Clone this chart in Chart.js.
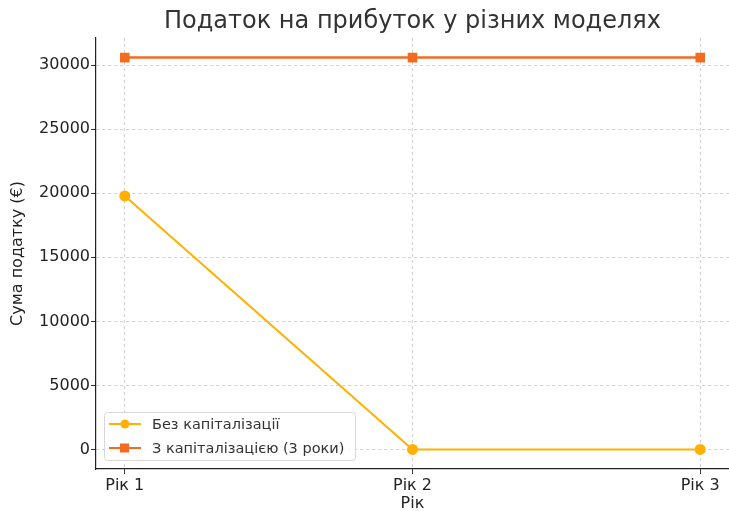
<!DOCTYPE html>
<html>
<head>
<meta charset="utf-8">
<script src="https://cdn.jsdelivr.net/npm/chart.js@4"></script>
<style>
  html, body { margin: 0; padding: 0; background: #fff; }
  #wrap { width: 729px; height: 511px; }
</style>
</head>
<body>
<div id="wrap"><canvas id="chart" width="729" height="511"></canvas></div>
<script>
const years = ['Рік 1', 'Рік 2', 'Рік 3'];
const noCap = [19800, 0, 0];
const withCap = [30600, 30600, 30600];
const yTicks = [0, 5000, 10000, 15000, 20000, 25000, 30000];
const chartTitle = 'Податок на прибуток у різних моделях';

const FONT = "'DejaVu Sans', sans-serif";

function pts(arr) {
  return arr.map((v, i) => ({ x: i, y: v }));
}

// title centred over the plot area, like matplotlib does
const plotTitle = {
  id: 'plotTitle',
  afterDraw(chart) {
    const ctx = chart.ctx;
    const a = chart.chartArea;
    ctx.save();
    ctx.font = '24px ' + FONT;
    ctx.fillStyle = '#333';
    ctx.textAlign = 'center';
    ctx.textBaseline = 'middle';
    ctx.fillText(chartTitle, (a.left + a.right) / 2, 22);
    ctx.restore();
  }
};

// legend drawn inside the plot, lower left
const innerLegend = {
  id: 'innerLegend',
  afterDatasetsDraw(chart) {
    const ctx = chart.ctx;
    const a = chart.chartArea;
    const x0 = a.left + 8, y0 = a.bottom - 57, w = 251, h = 48;
    ctx.save();
    ctx.fillStyle = 'rgba(255,255,255,0.8)';
    ctx.strokeStyle = '#d8d8d8';
    ctx.lineWidth = 1;
    ctx.beginPath();
    ctx.roundRect(x0 + 0.5, y0 + 0.5, w, h, 3);
    ctx.fill();
    ctx.stroke();
    ctx.font = '14.5px ' + FONT;
    ctx.textBaseline = 'middle';
    chart.data.datasets.forEach((ds, i) => {
      const cy = y0 + 12 + i * 24;
      ctx.strokeStyle = ds.borderColor;
      ctx.lineWidth = 2;
      ctx.beginPath();
      ctx.moveTo(x0 + 5, cy);
      ctx.lineTo(x0 + 37, cy);
      ctx.stroke();
      ctx.fillStyle = ds.borderColor;
      if (ds.pointStyle === 'rect') {
        ctx.fillRect(x0 + 16, cy - 4.5, 9, 9);
      } else {
        ctx.beginPath();
        ctx.arc(x0 + 21, cy, 4.5, 0, Math.PI * 2);
        ctx.fill();
      }
      ctx.fillStyle = '#333';
      ctx.fillText(ds.label, x0 + 48, cy + 1);
    });
    ctx.restore();
  }
};

new Chart(document.getElementById('chart'), {
  type: 'line',
  data: {
    datasets: [
      {
        label: 'Без капіталізації',
        data: pts(noCap),
        borderColor: '#ffb000',
        backgroundColor: '#ffb000',
        borderWidth: 2,
        pointStyle: 'circle',
        pointRadius: 4.5,
        pointHoverRadius: 4.5
      },
      {
        label: 'З капіталізацією (3 роки)',
        data: pts(withCap),
        borderColor: '#f26b21',
        backgroundColor: '#f26b21',
        borderWidth: 2.5,
        pointStyle: 'rect',
        pointRadius: 5,
        pointHoverRadius: 5
      }
    ]
  },
  options: {
    responsive: false,
    animation: false,
    layout: { autoPadding: false, padding: { right: 0, top: 38, left: 0, bottom: 0 } },
    plugins: {
      legend: { display: false },
      tooltip: { enabled: false },
      title: { display: false }
    },
    scales: {
      x: {
        type: 'linear',
        min: -0.1,
        max: 2.1,
        afterBuildTicks: s => { s.ticks = years.map((_, i) => ({ value: i })); },
        afterFit: s => { s.height = 42; s.paddingLeft = 0; s.paddingRight = 0; },
        ticks: {
          callback: v => years[v],
          color: '#222',
          font: { family: FONT, size: 16 },
          padding: 2
        },
        grid: { color: '#d0d0d0', tickColor: '#333', tickLength: 5 },
        border: { display: true, color: '#222', width: 1.2, dash: [3, 3] },
        title: {
          display: true,
          text: 'Рік',
          color: '#222',
          font: { family: FONT, size: 16 },
          padding: { top: 4, bottom: -2 }
        }
      },
      y: {
        min: -1530,
        max: 32130,
        afterBuildTicks: s => { s.ticks = yTicks.map(v => ({ value: v })); },
        afterFit: s => { s.width = 96; s.paddingTop = 0; s.paddingBottom = 0; },
        ticks: {
          callback: v => String(v),
          color: '#222',
          font: { family: FONT, size: 16 },
          padding: 1
        },
        grid: { color: '#d0d0d0', tickColor: '#333', tickLength: 5 },
        border: { display: true, color: '#222', width: 1.2, dash: [3, 3] },
        title: {
          display: true,
          text: 'Сума податку (€)',
          color: '#222',
          font: { family: FONT, size: 16 },
          padding: { top: 8, bottom: 0 }
        }
      }
    }
  },
  plugins: [innerLegend, plotTitle]
});
</script>
</body>
</html>
